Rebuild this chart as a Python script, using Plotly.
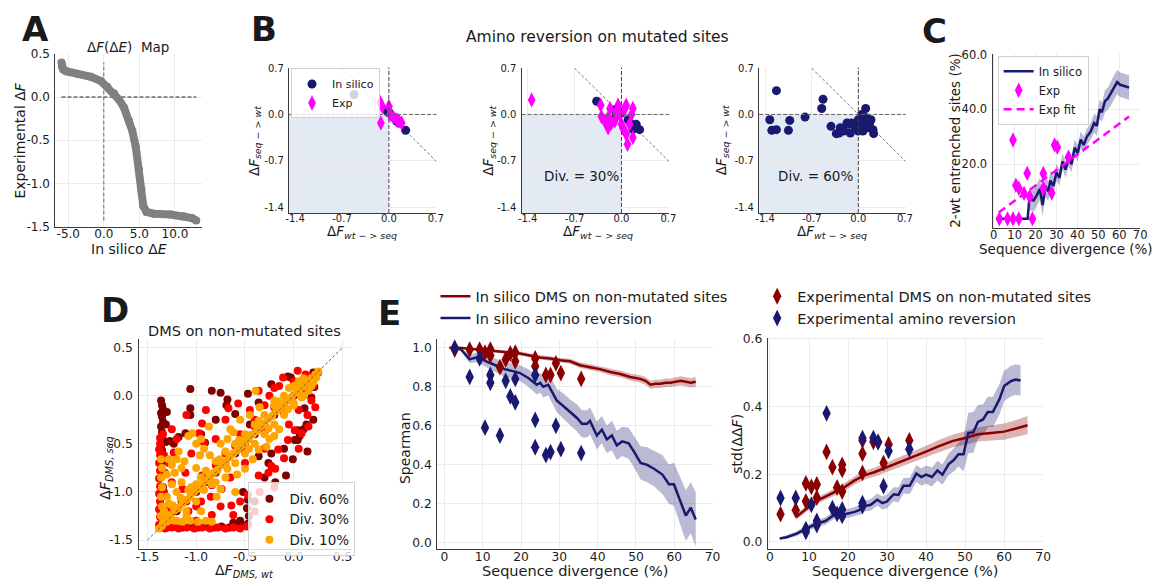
import plotly.graph_objects as go

W, H = 1163, 586
FONT = "DejaVu Sans"
NAVY = "#191970"
MAG = "#ff00ff"
DRED = "#8b0000"
TXT = "#1a1a1a"

# ---------------- Panel A data ----------------
a_dE = [-5.95, -5.9, -5.7, -5.33, -3.7, -1.8, -0.4, 0.5, 1.45, 2.15, 2.85, 3.55, 4.0,
        4.5, 4.95, 5.3, 5.55, 6.0, 7.05, 9.4, 11.25, 12.4, 13.0]
a_dF = [0.40, 0.35, 0.32, 0.30, 0.27, 0.235, 0.185, 0.12, 0.045, -0.03, -0.125, -0.275, -0.39,
        -0.58, -0.84, -1.07, -1.26, -1.33, -1.35, -1.36, -1.38, -1.40, -1.43]

# ---------------- Panel B data ----------------
b1_sim_x = [-0.52, -0.02, 0.0, 0.05, 0.12, 0.15, 0.25]
b1_sim_y = [0.30, 0.04, 0.03, -0.03, -0.10, -0.13, -0.24]
b1_exp_x = [-0.13, -0.10, 0.0, -0.12, 0.02, 0.07, 0.12, 0.19, 0.15]
b1_exp_y = [0.18, 0.12, 0.12, -0.13, 0.0, -0.05, -0.08, -0.13, -0.10]

b2_sim_x = [-0.37, -0.10, -0.05, 0.0, 0.10, 0.15, 0.22, 0.27, 0.17, -0.08]
b2_sim_y = [0.20, 0.07, 0.05, 0.02, -0.08, -0.15, -0.15, -0.23, -0.23, -0.02]
b2_exp_x = [-1.34, -0.31, -0.20, -0.17, -0.20, -0.05, -0.02, 0.05, 0.07, 0.15, 0.17,
            0.07, 0.09, 0.17, -0.10, 0.0, -0.15, -0.30, -0.25, 0.02, 0.12, -0.08]
b2_exp_y = [0.22, 0.14, -0.05, 0.09, -0.20, 0.14, 0.0, 0.09, 0.14, 0.0, 0.09,
            -0.30, -0.45, -0.35, -0.10, -0.15, -0.13, -0.03, -0.10, -0.20, -0.15, 0.04]

b3_sim_x = [-1.33, -1.30, -1.23, -1.23, -1.03, -1.05, -0.80, -0.53, -0.55, -0.41, -0.33,
            -0.27, -0.22, -0.15, -0.10, -0.05, 0.0, 0.05, 0.11, 0.0, 0.07, 0.15, 0.19,
            0.22, 0.23, 0.12, 0.17, -0.17, -0.29, -0.12, 0.05]
b3_sim_y = [-0.08, -0.24, 0.36, -0.23, -0.09, -0.24, -0.04, 0.23, 0.09, -0.18, -0.29,
            -0.20, -0.25, -0.15, -0.13, -0.18, -0.08, -0.15, 0.09, -0.25, -0.25, -0.20, -0.08,
            -0.23, -0.29, -0.05, -0.13, -0.13, -0.28, -0.28, 0.0]
b_diag_x = [-0.7, 0.71]
b_diag_y = [0.7, -0.71]

# ---------------- Panel C data ----------------
c_sim_x = [2.5, 4.2, 6.7, 9.2, 11.7, 14.2, 16.2, 17.0, 19.0, 20.5, 22.0, 23.4, 24.7, 26.1,
           27.1, 28.5, 30.0, 31.4, 32.9, 34.3, 35.8, 37.2, 38.7, 40.1, 41.6, 43.0, 44.5,
           46.4, 48.0, 49.3, 50.6, 51.7, 53.2, 54.6, 56.1, 57.5, 59.0, 60.4, 62.4, 64.7]
c_sim_y = [0, 0, 0, 0, 0, 0, 0, 7.2, 6.7, 8.5, 10.9, 5.0, 12.0, 10.0, 14.0, 12.0, 17.0,
           15.0, 21.0, 18.0, 22.0, 20.0, 26.0, 24.0, 29.0, 27.0, 30.0, 32.0, 35.0, 34.0,
           40.0, 39.0, 43.0, 44.0, 46.0, 48.0, 50.0, 49.0, 48.5, 48.0]
c_sim_sd = [0, 0, 0, 0, 0, 0, 0, 4, 4, 4, 4, 4, 4, 3.5, 3.5, 3.5, 3, 3, 3, 3, 3, 3, 3, 3,
            3, 3, 3, 3, 3.5, 3.5, 3.5, 3.5, 4, 4, 4.5, 4.5, 4.5, 4.5, 4.5, 4.5]
c_exp_x = [2.7, 6.6, 9.2, 12.0, 18.5, 9.2, 10.6, 12.0, 14.5, 16.0, 17.2, 23.7, 23.7, 27.7,
           29.1, 30.4, 35.7]
c_exp_y = [0, 0, 0, 0, 0, 28.8, 12.3, 11.2, 9.3, 16.6, 8.1, 16.6, 11.2, 9.4, 27.0, 26.2, 22.5]
c_fit_x = [2.4, 64.7]
c_fit_y = [2.3, 37.4]

# ---------------- Panel D data (x = dF_DMS,wt ; y = dF_DMS,seq) ----------------
d60 = [(-1.36, -0.05), (-1.35, -0.10), (-1.34, -0.14), (-1.36, -0.18), (-1.35, -0.22),
       (-1.34, -0.27), (-1.36, -0.32), (-1.35, -0.38), (-1.33, -0.47), (-1.36, -0.52),
       (-1.35, -0.57), (-1.34, -0.62), (-1.36, -0.70), (-1.35, -0.78), (-1.36, -0.85),
       (-1.34, -0.95), (-1.36, -1.05), (-1.35, -1.15), (-1.36, -1.25), (-1.35, -1.33),
       (-1.31, -0.48), (-1.27, -0.47), (-1.23, -0.50), (-1.30, -0.17), (-1.31, -0.30),
       (-1.30, -1.37), (-1.22, -1.36), (-1.14, -1.37), (-1.06, -1.36), (-0.98, -1.37),
       (-0.90, -1.36), (-0.82, -1.37), (-0.74, -1.36), (-0.66, -1.37), (-0.58, -1.36),
       (-0.52, -1.35), (-0.47, -1.33), (-0.46, -1.25), (-0.48, -1.17), (-0.47, -1.08),
       (-0.52, -1.00), (-0.55, -1.30), (-0.62, -1.32),
       (-1.06, 0.07), (-0.84, 0.05), (-0.75, 0.03), (-0.68, -0.04), (-0.69, -0.10),
       (-0.47, 0.02), (-0.36, -0.07), (-0.60, -0.19), (-1.06, -0.13), (-1.06, -0.20),
       (-1.11, -0.39), (-1.18, -0.43), (-0.91, -0.49), (-0.50, -0.49), (-0.23, 0.12),
       (-0.06, 0.20), (-0.03, 0.19), (-0.45, -0.30), (-0.95, -0.40), (-0.80, -0.25),
       (0.21, 0.09), (0.18, -0.02), (0.11, -0.13), (0.13, -0.30), (0.04, -0.36),
       (0.06, -0.42), (0.01, -0.46), (0.04, -0.46), (0.14, -0.58), (-0.01, -0.66),
       (-0.08, -0.83), (-0.26, -0.70), (-0.23, -0.60), (-0.36, -0.63), (-0.19, -0.90),
       (0.20, -0.25), (0.10, -0.35), (-0.10, -0.55), (-0.30, -0.85), (-0.40, -1.10),
       (-1.2, -1.2), (-1.0, -1.0), (-0.8, -0.8), (-0.6, -0.6), (-0.4, -0.4), (-0.2, -0.2),
       (0.0, 0.0), (0.15, 0.15), (0.22, 0.20), (0.20, 0.24)]
d30 = [(-1.37, -0.50), (-1.38, -0.56), (-1.37, -0.62), (-1.38, -0.70), (-1.37, -0.78),
       (-1.38, -0.86), (-1.37, -0.94), (-1.38, -1.02), (-1.37, -1.10), (-1.38, -1.18),
       (-1.37, -1.26), (-1.38, -1.34), (-1.33, -1.00), (-1.32, -0.80), (-1.33, -0.62),
       (-1.30, -1.20),
       (-1.32, -1.38), (-1.25, -1.37), (-1.18, -1.38), (-1.10, -1.37), (-1.02, -1.38),
       (-0.94, -1.37), (-0.86, -1.38), (-0.78, -1.37), (-0.70, -1.38), (-0.62, -1.37),
       (-0.55, -1.38), (-0.48, -1.36), (-0.84, -1.24), (-0.62, -1.24), (-0.64, -1.14),
       (-1.08, -1.20), (-1.21, -1.17), (-1.00, -1.30),
       (0.04, 0.26), (-0.11, 0.19), (-0.36, 0.05), (-0.57, -0.08), (-0.67, -0.13),
       (-0.94, -0.29), (-0.97, -0.39), (-0.92, -0.49), (-1.23, -0.59), (-1.14, -0.97),
       (-1.11, -0.80), (-0.94, -0.83), (-0.84, -0.93), (-0.74, -0.97), (-0.47, -1.03),
       (-0.36, -0.83), (-0.23, -0.73), (-0.26, -0.80), (-0.19, -0.76), (-0.16, -0.56),
       (-0.06, -0.46), (0.01, -0.36), (0.08, -0.39), (0.14, -0.20), (0.18, -0.05),
       (-0.25, 0.0), (-0.15, 0.10), (-0.45, -0.15), (-0.80, -0.45), (-1.05, -0.60),
       (-0.70, -0.60), (-0.55, -0.40), (-0.40, -0.25), (0.05, -0.15), (-0.05, -0.30),
       (-0.30, -0.55), (-0.50, -0.70), (-0.65, -0.85), (-0.85, -1.05), (-1.00, -1.15),
       (-1.3, -1.3), (-1.1, -1.1), (-0.9, -0.9), (-0.7, -0.7), (-0.5, -0.5), (-0.3, -0.3),
       (-0.1, -0.1), (0.1, 0.1), (0.2, 0.2), (0.25, 0.24), (-0.8, -0.72), (-0.6, -0.52),
       (-0.4, -0.32), (-0.2, -0.12), (-0.5, -0.58), (-0.3, -0.38), (-0.1, -0.18), (0.1, 0.02),
       (-1.37, -0.44), (-1.34, -0.40), (-1.25, -0.35), (-1.10, -0.20), (-0.90, -0.15),
       (-0.70, -0.25), (-0.30, -0.10), (-0.20, 0.08), (0.00, 0.15), (0.12, 0.22),
       (0.20, 0.10), (0.22, -0.12), (0.15, -0.32), (0.05, -0.55), (-0.10, -0.65),
       (-0.20, -0.95), (-0.35, -1.00), (-0.40, -1.20), (-0.55, -1.10), (-0.75, -1.15),
       (-0.95, -1.10), (-1.15, -1.10), (-1.25, -0.90), (-1.28, -0.70), (-1.20, -0.45)]
d10 = [(-1.38, -1.38), (-1.34, -1.32), (-1.30, -1.27), (-1.26, -1.24), (-1.22, -1.19),
       (-1.18, -1.17), (-1.14, -1.12), (-1.10, -1.08), (-1.06, -1.05), (-1.02, -1.00),
       (-0.98, -0.97), (-0.94, -0.93), (-0.90, -0.88), (-0.86, -0.85), (-0.82, -0.80),
       (-0.78, -0.77), (-0.74, -0.72), (-0.70, -0.69), (-0.66, -0.64), (-0.62, -0.60),
       (-0.58, -0.57), (-0.54, -0.52), (-0.50, -0.48), (-0.46, -0.45), (-0.42, -0.40),
       (-0.38, -0.37), (-0.34, -0.32), (-0.30, -0.29), (-0.26, -0.24), (-0.22, -0.21),
       (-0.18, -0.16), (-0.14, -0.13), (-0.10, -0.08), (-0.06, -0.05), (-0.02, -0.01),
       (0.02, 0.03), (0.06, 0.07), (0.10, 0.10), (0.14, 0.15), (0.18, 0.18), (0.22, 0.22),
       (0.25, 0.25),
       (-0.90, -0.78), (-0.80, -0.68), (-0.70, -0.58), (-0.60, -0.50), (-0.50, -0.40),
       (-0.40, -0.30), (-0.30, -0.20), (-0.20, -0.10), (-0.10, 0.00), (0.00, 0.10),
       (0.10, 0.18), (-0.60, -0.70), (-0.50, -0.60), (-0.40, -0.50), (-0.30, -0.40),
       (-0.20, -0.30), (-0.10, -0.20), (0.00, -0.10), (0.10, 0.00), (0.15, 0.05),
       (-0.80, -0.90), (-1.00, -1.10), (-1.10, -1.20), (-1.20, -1.30), (-0.95, -0.85),
       (-1.05, -0.95), (-0.20, -0.05), (-0.05, 0.08), (0.05, 0.15), (0.18, 0.10),
       (-1.36, -0.66), (-1.35, -0.75), (-1.36, -0.85), (-1.35, -0.95), (-1.36, -1.05),
       (-1.35, -1.15), (-1.36, -1.25), (-1.35, -1.35), (-1.28, -0.66), (-1.25, -0.72),
       (-1.20, -0.66), (-1.15, -0.75), (-1.30, -0.82), (-1.25, -0.92), (-1.30, -1.05),
       (-1.20, -1.00), (-1.15, -0.90), (-1.08, -0.42), (-1.00, -0.50), (-0.92, -0.55),
       (-0.86, -0.62), (-0.87, -0.32), (-1.04, -0.39), (-0.95, -0.45),
       (-1.30, -1.31), (-1.22, -1.30), (-1.14, -1.31), (-1.06, -1.30), (-0.98, -1.31),
       (-0.90, -1.30), (-0.84, -1.31), (-1.10, -1.25),
       (-0.39, 0.05), (-0.79, -1.05), (-0.75, -0.97), (-0.50, -0.76), (-0.36, -0.56),
       (-0.28, -0.53), (-0.47, -0.41), (0.00, -0.08), (-0.65, -0.35), (-0.55, -0.25),
       (-0.25, -0.45), (-0.15, -0.35), (-0.70, -0.85),
       (-1.32, -1.22), (-1.24, -1.14), (-1.16, -1.06), (-1.08, -0.98), (-1.00, -0.92),
       (-0.92, -0.98), (-0.84, -0.92), (-0.76, -0.66), (-0.68, -0.76), (-0.56, -0.46),
       (-0.46, -0.55), (-0.36, -0.26), (-0.26, -0.34), (-0.16, -0.06), (-0.06, -0.14),
       (0.04, 0.12), (0.08, -0.02), (0.20, 0.14), (0.23, 0.19), (-1.22, -0.80),
       (-1.18, -0.58), (-1.12, -0.68), (-1.00, -0.75), (-0.96, -0.62), (-0.75, -0.50),
       (-0.68, -0.45), (-0.62, -0.38), (-0.45, -0.20), (-0.35, -0.12), (-0.58, -0.82),
       (-0.42, -0.66), (-0.20, -0.42), (-1.33, -1.20), (-1.28, -1.12), (-0.60, -1.00),
       (-0.95, -1.20)]
d_diag = [-1.5, 0.5]

# ---------------- Panel E data ----------------
e1_dms_x = [1.3, 3.9, 6.6, 9.2, 11.8, 14.4, 17.0, 19.7, 22.3, 24.9, 27.5, 30.2, 32.8, 35.4,
            38.0, 40.6, 43.3, 45.9, 48.5, 51.1, 52.5, 53.8, 55.1, 56.4, 57.7, 59.0, 60.3,
            61.7, 63.0, 64.3, 65.6]
e1_dms_y = [1.0, 1.0, 0.995, 0.99, 0.985, 0.98, 0.975, 0.97, 0.96, 0.95, 0.945, 0.935, 0.93,
            0.91, 0.90, 0.89, 0.875, 0.865, 0.85, 0.84, 0.83, 0.81, 0.815, 0.815, 0.82, 0.82,
            0.825, 0.83, 0.825, 0.82, 0.825]
e1_dms_sd = [0.0, 0.003, 0.005, 0.006, 0.007, 0.008, 0.009, 0.01, 0.01, 0.011, 0.012, 0.012,
             0.013, 0.014, 0.015, 0.015, 0.016, 0.017, 0.018, 0.019, 0.02, 0.02, 0.021,
             0.021, 0.022, 0.022, 0.023, 0.023, 0.024, 0.024, 0.025]
e1_rev_x = [2.6, 4.4, 6.6, 8.3, 9.6, 10.9, 12.7, 14.4, 15.7, 17.9, 19.7, 21.9, 24.1, 25.0,
            25.8, 27.1, 28.0, 29.3, 31.1, 32.8, 34.6, 35.9, 37.2, 38.0, 39.8, 41.1, 42.4,
            43.7, 45.0, 46.4, 48.1, 49.4, 51.2, 52.9, 54.7, 56.9, 58.6, 59.9, 61.7, 63.0,
            64.3, 65.6]
e1_rev_y = [1.0, 0.99, 0.94, 0.95, 0.945, 0.93, 0.915, 0.90, 0.89, 0.88, 0.87, 0.845, 0.81,
            0.82, 0.80, 0.81, 0.78, 0.73, 0.70, 0.67, 0.64, 0.61, 0.61, 0.625, 0.55, 0.58,
            0.53, 0.55, 0.50, 0.52, 0.51, 0.47, 0.41, 0.40, 0.38, 0.35, 0.30, 0.30, 0.21,
            0.14, 0.18, 0.12]
e1_rev_sd = [0.0, 0.01, 0.02, 0.025, 0.03, 0.03, 0.035, 0.035, 0.04, 0.04, 0.04, 0.045,
             0.05, 0.05, 0.055, 0.055, 0.06, 0.06, 0.065, 0.065, 0.07, 0.07, 0.07, 0.07,
             0.07, 0.07, 0.07, 0.075, 0.075, 0.075, 0.08, 0.08, 0.085, 0.09, 0.09, 0.1, 0.1,
             0.11, 0.12, 0.13, 0.13, 0.14]
e1_dms_exp_x = [2.7, 6.6, 9.2, 10.6, 12.0, 12.0, 14.5, 16.0, 17.2, 18.5, 18.5, 23.7, 23.7,
                26.5, 27.7, 29.1, 30.4, 35.7]
e1_dms_exp_y = [0.99, 0.99, 0.99, 0.975, 0.99, 0.96, 0.90, 0.94, 0.97, 0.975, 0.93, 0.945,
                0.905, 0.86, 0.86, 0.92, 0.87, 0.84]
e1_rev_exp_x = [2.7, 6.6, 9.2, 10.6, 12.0, 12.0, 14.5, 16.0, 17.2, 18.5, 18.5, 23.7, 23.7,
                23.7, 26.5, 27.7, 29.1, 30.4, 35.7]
e1_rev_exp_y = [1.0, 0.85, 0.945, 0.59, 0.86, 0.82, 0.55, 0.83, 0.75, 0.84, 0.72, 0.86,
                0.63, 0.49, 0.45, 0.465, 0.60, 0.48, 0.46]

e2_dms_x = [6.7, 9.2, 11.7, 14.2, 16.7, 19.2, 21.7, 24.2, 26.7, 30.0, 33.3, 36.7, 40.0,
            43.3, 46.7, 50.0, 53.3, 56.7, 60.0, 63.3, 66.0]
e2_dms_y = [0.074, 0.096, 0.12, 0.134, 0.149, 0.163, 0.182, 0.197, 0.206, 0.221, 0.235,
            0.25, 0.267, 0.283, 0.298, 0.307, 0.318, 0.322, 0.326, 0.336, 0.345]
e2_dms_sd = [0.008, 0.009, 0.01, 0.01, 0.011, 0.012, 0.012, 0.013, 0.013, 0.014, 0.015,
             0.016, 0.017, 0.018, 0.019, 0.02, 0.021, 0.022, 0.024, 0.025, 0.027]
e2_rev_x = [2.5, 4.2, 6.7, 9.2, 11.7, 14.2, 16.7, 19.2, 21.7, 23.3, 24.2, 25.8, 27.5, 28.8,
            30.0, 31.7, 32.9, 34.2, 35.8, 37.5, 38.8, 40.0, 41.5, 42.9, 44.2, 45.8, 47.1,
            48.3, 49.6, 50.8, 52.1, 53.3, 54.6, 55.8, 57.1, 58.8, 60.0, 61.7, 62.9, 64.2]
e2_rev_y = [0.01, 0.014, 0.024, 0.038, 0.053, 0.062, 0.082, 0.082, 0.089, 0.096, 0.106,
            0.11, 0.125, 0.115, 0.12, 0.141, 0.139, 0.166, 0.166, 0.202, 0.192, 0.199,
            0.192, 0.211, 0.199, 0.23, 0.242, 0.259, 0.259, 0.322, 0.324, 0.355, 0.362,
            0.384, 0.384, 0.422, 0.461, 0.475, 0.48, 0.477]
e2_rev_sd = [0.003, 0.005, 0.007, 0.009, 0.01, 0.011, 0.012, 0.013, 0.014, 0.015, 0.016,
             0.017, 0.018, 0.019, 0.02, 0.021, 0.022, 0.023, 0.024, 0.025, 0.026, 0.027,
             0.028, 0.029, 0.03, 0.032, 0.034, 0.036, 0.05, 0.06, 0.06, 0.05, 0.045, 0.045,
             0.045, 0.045, 0.045, 0.045, 0.045, 0.045]
e2_dms_exp_x = [2.7, 6.6, 9.2, 9.2, 10.6, 12.0, 12.0, 14.5, 16.0, 17.2, 18.5, 18.5, 18.5,
                23.7, 23.7, 23.7, 26.5, 27.7, 29.1, 30.4, 35.7]
e2_dms_exp_y = [0.082, 0.094, 0.173, 0.12, 0.163, 0.17, 0.131, 0.266, 0.221, 0.161, 0.228,
                0.213, 0.149, 0.30, 0.261, 0.204, 0.296, 0.296, 0.233, 0.288, 0.30]
e2_rev_exp_x = [2.7, 6.6, 9.2, 9.2, 10.6, 12.0, 12.0, 14.5, 16.0, 17.2, 18.5, 18.5, 23.7,
                23.7, 23.7, 26.5, 27.7, 29.1, 30.4, 35.7]
e2_rev_exp_y = [0.13, 0.13, 0.038, 0.03, 0.11, 0.062, 0.05, 0.38, 0.10, 0.083, 0.096,
                0.077, 0.307, 0.115, 0.106, 0.307, 0.295, 0.165, 0.269, 0.274]

# ---------------- tick labels ----------------
a_xt, a_xtt = [-5, 0, 5, 10], ["-5.0", "0.0", "5.0", "10.0"]
a_yt, a_ytt = [0.5, 0, -0.5, -1, -1.5], ["0.5", "0.0", "-0.5", "-1.0", "-1.5"]
b_t, b_tt = [-1.4, -0.7, 0.0, 0.7], ["-1.4", "-0.7", "0.0", "0.7"]
c_xt = [0, 10, 20, 30, 40, 50, 60, 70]
c_xtt = ["0", "10", "20", "30", "40", "50", "60", "70"]
c_yt, c_ytt = [20, 40, 60], ["20.0", "40.0", "60.0"]
d_t, d_tt = [-1.5, -1.0, -0.5, 0.0, 0.5], ["-1.5", "-1.0", "-0.5", "0.0", "0.5"]
e1_yt, e1_ytt = [0, 0.2, 0.4, 0.6, 0.8, 1.0], ["0.0", "0.2", "0.4", "0.6", "0.8", "1.0"]
e2_yt, e2_ytt = [0, 0.2, 0.4, 0.6], ["0.0", "0.2", "0.4", "0.6"]

# ---------------- figure ----------------
fig = go.Figure()
layout = {}


def axes(n, box, xr, yr, xt, xtt, yt, ytt, fs, xso=-4):
    l, r, t, b = box
    xs = 'xaxis' if n == 1 else f'xaxis{n}'
    ys = 'yaxis' if n == 1 else f'yaxis{n}'
    xa = 'x' if n == 1 else f'x{n}'
    ya = 'y' if n == 1 else f'y{n}'
    common = dict(showline=True, linecolor='#3a3a3a', linewidth=1.4, ticks='',
                  showgrid=True, gridcolor='#ebebeb', gridwidth=1, zeroline=False,
                  fixedrange=True, tickfont=dict(family=FONT, size=fs, color=TXT),
                  tickmode='array')
    layout[xs] = dict(domain=[l / W, r / W], range=xr, anchor=ya, tickvals=xt, ticktext=xtt,
                      ticklabelstandoff=xso, **common)
    layout[ys] = dict(domain=[1 - b / H, 1 - t / H], range=yr, anchor=xa, tickvals=yt,
                      ticktext=ytt, ticklabelstandoff=2, **common)


axes(1, (52, 200, 48, 225), [-6.8, 13.8], [-1.5, 0.5], a_xt, a_xtt, a_yt, a_ytt, 12)
axes(2, (288, 437, 62, 211), [-1.49, 0.71], [-1.49, 0.71], b_t, b_tt, b_t, b_tt, 10)
axes(3, (523, 672, 62, 211), [-1.49, 0.71], [-1.49, 0.71], b_t, b_tt, b_t, b_tt, 10)
axes(4, (763, 911, 62, 211), [-1.49, 0.71], [-1.49, 0.71], b_t, b_tt, b_t, b_tt, 10)
axes(5, (999, 1148, 48, 226), [-0.5, 70], [-3.2, 60.3], c_xt, c_xtt, c_yt, c_ytt, 11.5)
axes(6, (136, 352, 340, 555), [-1.59, 0.6], [-1.59, 0.59], d_t, d_tt, d_t, d_tt, 12.3, xso=-4)
axes(7, (438, 716, 340, 555), [-1.8, 70], [-0.03, 1.045], c_xt, c_xtt, e1_yt, e1_ytt, 12.3, xso=-4)
axes(8, (772, 1050, 339, 555), [-0.5, 70], [-0.02, 0.603], c_xt, c_xtt, e2_yt, e2_ytt, 12.3, xso=-4)


def xy(n):
    return ('x', 'y') if n == 1 else (f'x{n}', f'y{n}')


def add(n, **kw):
    xa, ya = xy(n)
    kw.setdefault('showlegend', False)
    fig.add_trace(go.Scatter(xaxis=xa, yaxis=ya, **kw))


def band(n, x, m, sd, fill):
    up = [a + s for a, s in zip(m, sd)]
    lo = [a - s for a, s in zip(m, sd)]
    add(n, x=x, y=up, mode='lines', line=dict(width=0), hoverinfo='skip')
    add(n, x=x, y=lo, mode='lines', line=dict(width=0), fill='tonexty', fillcolor=fill, hoverinfo='skip')


shapes = []
# ---- A ----
add(1, x=[a_dE[0], a_dE[-1]], y=[0, 0], mode='lines', line=dict(color='#222', width=1, dash='4px,2px'))
add(1, x=[0, 0], y=[a_dF[-1], a_dF[0]], mode='lines', line=dict(color='#666', width=1, dash='4px,2px'))
add(1, x=a_dE, y=a_dF, mode='lines+markers', line=dict(color='#808080', width=8),
    marker=dict(color='#808080', size=8))

# ---- B ----
b_sets = [(2, b1_sim_x, b1_sim_y, b1_exp_x, b1_exp_y),
          (3, b2_sim_x, b2_sim_y, b2_exp_x, b2_exp_y),
          (4, b3_sim_x, b3_sim_y, None, None)]
for n, sx, sy, ex, ey in b_sets:
    xa, ya = xy(n)
    shapes.append(dict(type='rect', xref=xa, yref=ya, x0=-1.49, x1=0, y0=-1.49, y1=0,
                       fillcolor='rgba(176,196,222,0.35)', line=dict(width=0), layer='below'))
    shapes.append(dict(type='line', xref=xa + ' domain', yref=ya, x0=0, x1=1, y0=0, y1=0,
                       line=dict(color='#666', width=1, dash='4px,2px')))
    shapes.append(dict(type='line', xref=xa, yref=ya + ' domain', x0=0, x1=0, y0=0, y1=1,
                       line=dict(color='#444', width=1, dash='4px,2px')))
    add(n, x=b_diag_x, y=b_diag_y, mode='lines', line=dict(color='#555', width=0.8, dash='3px,2px'))
    add(n, x=sx, y=sy, mode='markers', name='In silico', showlegend=(n == 2), legend='legend',
        marker=dict(color=NAVY, size=9, symbol='circle'))
    if ex is not None:
        add(n, x=ex, y=ey, mode='markers', name='Exp', showlegend=(n == 2), legend='legend',
            marker=dict(color=MAG, size=11, symbol='diamond-tall'))

# ---- C ----
band(5, c_sim_x, c_sim_y, c_sim_sd, 'rgba(25,25,112,0.3)')
add(5, x=c_sim_x, y=c_sim_y, mode='lines', name='In silico', showlegend=True, legend='legend2',
    line=dict(color=NAVY, width=2.5))
add(5, x=c_exp_x, y=c_exp_y, mode='markers', name='Exp', showlegend=True, legend='legend2',
    marker=dict(color=MAG, size=11, symbol='diamond-tall'))
add(5, x=c_fit_x, y=c_fit_y, mode='lines', name='Exp fit', showlegend=True, legend='legend2',
    line=dict(color=MAG, width=2.5, dash='8px,5px'))

# ---- D ----
for pts, col, nm in [(d60, '#800000', 'Div. 60%'), (d30, '#ff0000', 'Div. 30%'), (d10, '#ffa500', 'Div. 10%')]:
    add(6, x=[p[0] for p in pts], y=[p[1] for p in pts], mode='markers', name=nm,
        showlegend=True, legend='legend3', marker=dict(color=col, size=8))
add(6, x=d_diag, y=d_diag, mode='lines', line=dict(color='#555', width=0.9, dash='3px,2px'))

# ---- E left ----
band(7, e1_dms_x, e1_dms_y, e1_dms_sd, 'rgba(139,0,0,0.3)')
band(7, e1_rev_x, e1_rev_y, e1_rev_sd, 'rgba(25,25,112,0.3)')
add(7, x=e1_dms_x, y=e1_dms_y, mode='lines', name='In silico DMS on non-mutated sites',
    showlegend=True, legend='legend4', line=dict(color=DRED, width=2.5))
add(7, x=e1_rev_x, y=e1_rev_y, mode='lines', name='In silico amino reversion',
    showlegend=True, legend='legend4', line=dict(color=NAVY, width=2.5))
add(7, x=e1_dms_exp_x, y=e1_dms_exp_y, mode='markers', name='Experimental DMS on non-mutated sites',
    showlegend=True, legend='legend5', marker=dict(color=DRED, size=12, symbol='diamond-tall'))
add(7, x=e1_rev_exp_x, y=e1_rev_exp_y, mode='markers', name='Experimental amino reversion',
    showlegend=True, legend='legend5', marker=dict(color=NAVY, size=12, symbol='diamond-tall'))

# ---- E right ----
band(8, e2_dms_x, e2_dms_y, e2_dms_sd, 'rgba(139,0,0,0.3)')
band(8, e2_rev_x, e2_rev_y, e2_rev_sd, 'rgba(25,25,112,0.3)')
add(8, x=e2_dms_x, y=e2_dms_y, mode='lines', line=dict(color=DRED, width=2.5))
add(8, x=e2_rev_x, y=e2_rev_y, mode='lines', line=dict(color=NAVY, width=2.5))
add(8, x=e2_dms_exp_x, y=e2_dms_exp_y, mode='markers', marker=dict(color=DRED, size=12, symbol='diamond-tall'))
add(8, x=e2_rev_exp_x, y=e2_rev_exp_y, mode='markers', marker=dict(color=NAVY, size=12, symbol='diamond-tall'))

# ---------------- annotations ----------------
anns = []


def ann(text, x, y, size, angle=0, xanchor='center', ref=None):
    d = dict(text=text, showarrow=False, textangle=angle, xanchor=xanchor, yanchor='middle',
             font=dict(family=FONT, size=size, color=TXT))
    if ref is None:
        d.update(xref='paper', yref='paper', x=x / W, y=1 - y / H)
    else:
        d.update(xref=ref[0], yref=ref[1], x=x, y=y)
    anns.append(d)


for lab, x, y in [('A', 32, 23), ('B', 263, 23), ('C', 940, 25), ('D', 112, 310), ('E', 390, 313)]:
    ann(f'<b>{lab}</b>', x, y, 34)

ann('Δ<i>F</i>(Δ<i>E</i>)\u00a0\u00a0Map', 125, 41, 13.5)
ann('In silico Δ<i>E</i>', 126, 248, 14)
ann('Experimental Δ<i>F</i>', 16, 137, 14, angle=-90)

ann('Amino reversion on mutated sites', 600, 31, 15.5)
for cx in [362, 600, 837]:
    ann('Δ<i>F</i><sub><i>wt − > seq</i></sub>', cx, 231, 13.5)
for yx in [253, 490, 725]:
    ann('Δ<i>F</i><sub><i>seq − > wt</i></sub>', yx, 137, 13.5, angle=-90)
ann('Div. = 30%', -0.60, -0.93, 13.5, ref=('x3', 'y3'))
ann('Div. = 60%', -0.65, -0.93, 13.5, ref=('x4', 'y4'))

ann('Sequence divergence (%)', 1073, 248, 13.5)
ann('2-wt entrenched sites (%)', 961, 137, 13.5, angle=-90)

ann('DMS on non-mutated sites', 243, 332, 14.5)
ann('Δ<i>F</i><sub><i>DMS, seq</i></sub>', 103, 472, 14, angle=-90)
ann('Δ<i>F</i><sub><i>DMS, wt</i></sub>', 243, 578, 14)

ann('Spearman', 405, 452, 14, angle=-90)
ann('Sequence divergence (%)', 577, 578, 14.5)
ann('std(ΔΔ<i>F</i>)', 741, 447, 14, angle=-90)
ann('Sequence divergence (%)', 910, 578, 14.5)

leg_common = dict(xanchor='left', yanchor='top', itemwidth=30, tracegroupgap=0,
                  traceorder='normal', orientation='v')
layout.update(
    width=W, height=H, margin=dict(l=0, r=0, t=0, b=0),
    paper_bgcolor='white', plot_bgcolor='white',
    font=dict(family=FONT, color=TXT),
    shapes=shapes, annotations=anns, hovermode=False,
    legend=dict(x=290 / W, y=1 - 63 / H, font=dict(family=FONT, size=11, color=TXT),
                bgcolor='rgba(255,255,255,0.8)', bordercolor='#d0d0d0', borderwidth=1, **leg_common),
    legend2=dict(x=1004 / W, y=1 - 50 / H, font=dict(family=FONT, size=11.5, color=TXT),
                 bgcolor='rgba(255,255,255,0.8)', bordercolor='#d0d0d0', borderwidth=1, **leg_common),
    legend3=dict(x=247 / W, y=1 - 487 / H, font=dict(family=FONT, size=13.5, color=TXT),
                 bgcolor='rgba(255,255,255,0.8)', bordercolor='#d0d0d0', borderwidth=1, **leg_common),
    legend4=dict(x=436 / W, y=1 - 280 / H, font=dict(family=FONT, size=14.5, color=TXT),
                 bgcolor='rgba(255,255,255,0)', borderwidth=0, **leg_common),
    legend5=dict(x=761 / W, y=1 - 280 / H, font=dict(family=FONT, size=14.5, color=TXT),
                 bgcolor='rgba(255,255,255,0)', borderwidth=0, **leg_common),
)
fig.update_layout(**layout)
fig.write_html("out.html", config={'displayModeBar': False},
               post_script="document.body.style.margin='0px';document.body.style.overflow='hidden';")
